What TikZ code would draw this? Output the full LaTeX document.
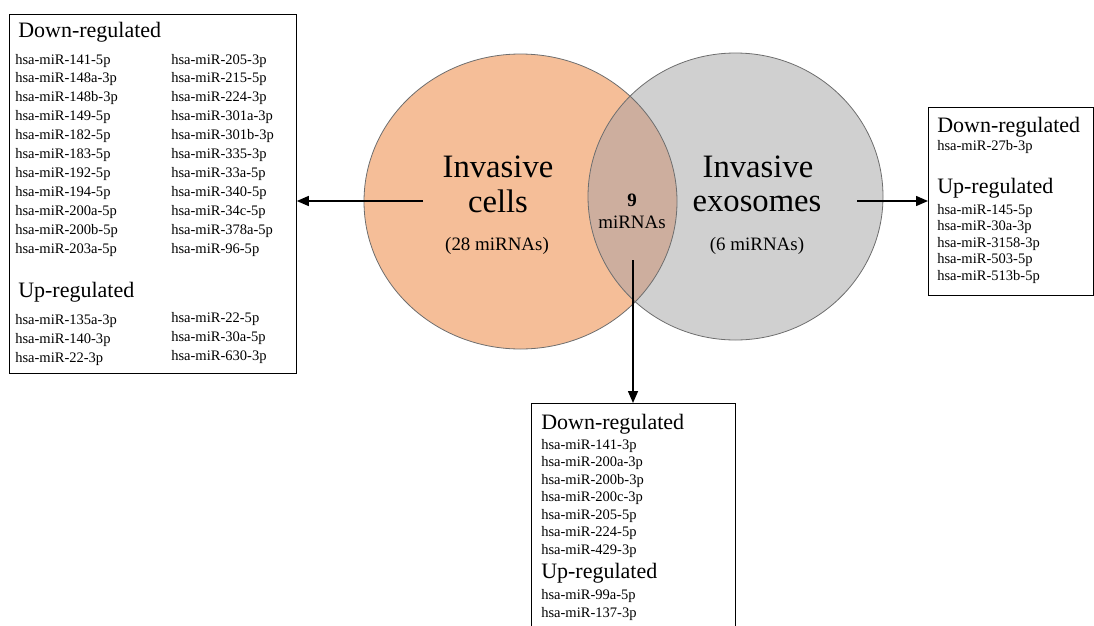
\documentclass[tikz,border=0pt]{standalone}
\usepackage{fontspec}
\setmainfont{Liberation Serif}
\usepackage{xcolor}
\usetikzlibrary{arrows.meta,positioning,calc}

\definecolor{cellfill}{HTML}{F5BE98}
\definecolor{exofill}{HTML}{D0D0D0}
\definecolor{bothfill}{HTML}{CDAE9E}
\definecolor{rim}{HTML}{6E6E6E}

\begin{document}
\begin{tikzpicture}[x=0.75pt,y=-0.75pt,
    listbox/.style={draw,line width=0.6pt,anchor=north west,inner sep=0pt},
    head/.style={anchor=base west,inner sep=0pt,font=\fontsize{16.5}{18}\selectfont},
    mir/.style={anchor=base west,inner sep=0pt,font=\fontsize{10.9}{12}\selectfont},
    big/.style={anchor=base,inner sep=0pt,font=\fontsize{24.5}{28}\selectfont},
    small/.style={anchor=base,inner sep=0pt,font=\fontsize{14.2}{16}\selectfont},
    arr/.style={line width=1.1pt,-{Triangle[length=9pt,width=7.5pt]}}]

    \useasboundingbox (0,0) rectangle (1094,625);

    % Venn circles
    \fill[cellfill] (520.5,201.5) ellipse [x radius=156.5, y radius=147.5];
    \fill[exofill] (735.5,196.5) ellipse [x radius=147.5, y radius=143.5];
    \begin{scope}
        \clip (520.5,201.5) ellipse [x radius=156.5, y radius=147.5];
        \fill[bothfill] (735.5,196.5) ellipse [x radius=147.5, y radius=143.5];
    \end{scope}
    \draw[rim,line width=0.6pt] (520.5,201.5) ellipse [x radius=156.5, y radius=147.5];
    \draw[rim,line width=0.6pt] (735.5,196.5) ellipse [x radius=147.5, y radius=143.5];

    % Circle labels
    \node[big] (cells1) at (498,177) {Invasive};
    \node[big] (cells2) at (498,212) {cells};
    \node[small] (cellsn) at (497,250) {(28 miRNAs)};
    \node[big] (exo1) at (758,177) {Invasive};
    \node[big] (exo2) at (757,211) {exosomes};
    \node[small] (exon) at (757,250) {(6 miRNAs)};
    \node[small] (bothn) at (632,206) {\textbf{9}};
    \node[small] (both) at (632,228) {miRNAs};

    % Boxes
    \node[listbox,minimum width=215.25pt,minimum height=269.25pt] (leftbox) at (9,14) {};
    \node[listbox,minimum width=123.75pt,minimum height=141pt] (rightbox) at (928,107) {};
    \node[listbox,minimum width=153pt,minimum height=170.25pt] (bottombox) at (531,403) {};

    % Left box: invasive cells
    \node[head] (ldown) at (18,37) {Down-regulated};
    \foreach \m [count=\i from 0] in {141-5p,148a-3p,148b-3p,149-5p,182-5p,183-5p,192-5p,194-5p,200a-5p,200b-5p,203a-5p}
        \node[mir] (la\i) at (15,{64+18.9*\i}) {hsa-miR-\m};
    \foreach \m [count=\i from 0] in {205-3p,215-5p,224-3p,301a-3p,301b-3p,335-3p,33a-5p,340-5p,34c-5p,378a-5p,96-5p}
        \node[mir] (lb\i) at (171,{64+18.9*\i}) {hsa-miR-\m};
    \node[head] (lup) at (18,297) {Up-regulated};
    \foreach \m [count=\i from 0] in {135a-3p,140-3p,22-3p}
        \node[mir] (lc\i) at (15,{324+19*\i}) {hsa-miR-\m};
    \foreach \m [count=\i from 0] in {22-5p,30a-5p,630-3p}
        \node[mir] (ld\i) at (171,{322+19*\i}) {hsa-miR-\m};

    % Right box: invasive exosomes
    \node[head] (rdown) at (937,132) {Down-regulated};
    \node[mir] (ra0) at (937,150) {hsa-miR-27b-3p};
    \node[head] (rup) at (937,193) {Up-regulated};
    \foreach \m [count=\i from 0] in {145-5p,30a-3p,3158-3p,503-5p,513b-5p}
        \node[mir] (rb\i) at (937,{214+16.5*\i}) {hsa-miR-\m};

    % Bottom box: shared
    \node[head] (bdown) at (541,429) {Down-regulated};
    \foreach \m [count=\i from 0] in {141-3p,200a-3p,200b-3p,200c-3p,205-5p,224-5p,429-3p}
        \node[mir] (ba\i) at (541,{449+17.5*\i}) {hsa-miR-\m};
    \node[head] (bup) at (541,578) {Up-regulated};
    \foreach \m [count=\i from 0] in {99a-5p,137-3p}
        \node[mir] (bb\i) at (541,{599+18*\i}) {hsa-miR-\m};

    % Arrows
    \coordinate (cellsout) at (423,201);
    \coordinate (exoout) at (857,201);
    \coordinate (bothout) at (633,260);
    \draw[arr] (cellsout) -- (cellsout -| leftbox.east);
    \draw[arr] (exoout) -- (exoout -| rightbox.west);
    \draw[arr] (bothout) -- (bothout |- bottombox.north);
\end{tikzpicture}
\end{document}
